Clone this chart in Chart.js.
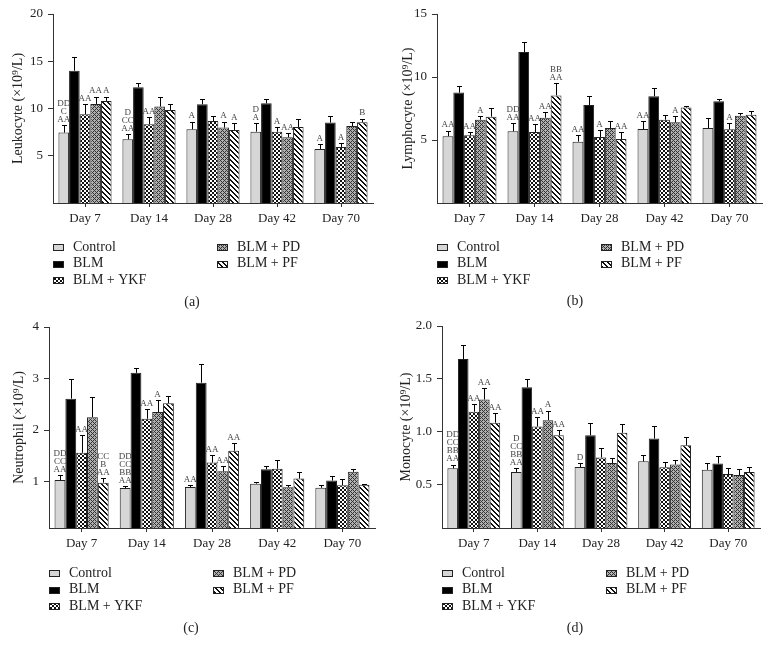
<!DOCTYPE html>
<html>
<head>
<meta charset="utf-8">
<script src="https://cdn.jsdelivr.net/npm/chart.js@4"></script>
<style>
  body { margin: 0; background: #fff; }
  #wrap { position: relative; width: 771px; height: 654px; overflow: hidden; background: #fff; }
  .panel { position: absolute; }
</style>
</head>
<body>
<div id="wrap"></div>
<script>
var days = ['Day 7', 'Day 14', 'Day 28', 'Day 42', 'Day 70'];
var groups = ['Control', 'BLM', 'BLM + YKF', 'BLM + PD', 'BLM + PF'];

// values per group (rows) and day (columns)
var leukocyte = [
  [7.45, 6.74, 7.8, 7.55, 5.72],
  [14.0, 12.25, 10.45, 10.55, 8.51],
  [9.39, 8.33, 8.68, 7.55, 5.93],
  [10.48, 10.2, 7.98, 6.95, 8.15],
  [10.8, 9.85, 7.73, 8.05, 8.54]
];
var leukocyteErr = [
  [0.77, 0.53, 0.81, 0.88, 0.53],
  [1.4, 0.42, 0.55, 0.45, 0.7],
  [1.06, 0.77, 0.5, 0.53, 0.39],
  [0.78, 0.99, 0.63, 0.43, 0.46],
  [0.46, 0.63, 0.7, 0.81, 0.39]
];
var leukocyteMarks = [
  [['DD', 'C', 'AA'], ['D', 'CC', 'AA'], ['A'], ['D', 'A'], ['A']],
  [[], [], [], [], []],
  [['AA'], ['AA'], [], ['A'], ['A']],
  [['AA'], [], ['A'], ['AA'], []],
  [['A'], [], ['A'], [], ['B']]
];

var lymphocyte = [
  [5.3, 5.69, 4.87, 5.87, 5.95],
  [8.76, 11.98, 7.78, 8.47, 8.07],
  [5.37, 5.63, 5.24, 6.61, 5.85],
  [6.61, 6.77, 5.95, 6.4, 6.93],
  [6.85, 8.54, 5.08, 7.57, 7.01]
];
var lymphocyteErr = [
  [0.45, 0.63, 0.53, 0.61, 0.8],
  [0.54, 0.77, 0.69, 0.66, 0.16],
  [0.29, 0.61, 0.55, 0.35, 0.47],
  [0.32, 0.45, 0.58, 0.48, 0.19],
  [0.72, 0.96, 0.58, 0.13, 0.32]
];
var lymphocyteMarks = [
  [['AA'], ['DD', 'AA'], ['AA'], ['AA'], []],
  [[], [], [], [], []],
  [['AA'], ['AA'], ['A'], [], ['A']],
  [['A'], ['AA'], [], ['A'], []],
  [[], ['BB', 'AA'], ['AA'], [], []]
];

var neutrophil = [
  [1.03, 0.876, 0.895, 0.96, 0.88],
  [2.61, 3.11, 2.92, 1.24, 1.02],
  [1.56, 2.22, 1.37, 1.25, 0.93],
  [2.25, 2.35, 1.2, 0.89, 1.19],
  [0.98, 2.52, 1.6, 1.06, 0.94]
];
var neutrophilErr = [
  [0.1, 0.04, 0.04, 0.04, 0.05],
  [0.39, 0.1, 0.37, 0.07, 0.09],
  [0.34, 0.19, 0.15, 0.16, 0.12],
  [0.39, 0.24, 0.1, 0.05, 0.06],
  [0.09, 0.15, 0.15, 0.12, 0.01]
];
var neutrophilMarks = [
  [['DD', 'CC', 'AA'], ['DD', 'CC', 'BB', 'AA'], ['AA'], [], []],
  [[], [], [], [], []],
  [['AA'], ['AA'], ['AA'], [], []],
  [[], ['A'], ['AA'], [], []],
  [['CC', 'B', 'AA'], [], ['AA'], [], []]
];

var monocyte = [
  [0.654, 0.62, 0.667, 0.72, 0.64],
  [1.687, 1.42, 0.967, 0.936, 0.70],
  [1.19, 1.05, 0.757, 0.664, 0.60],
  [1.305, 1.11, 0.704, 0.69, 0.59],
  [1.086, 0.967, 0.99, 0.873, 0.62]
];
var monocyteErr = [
  [0.036, 0.04, 0.035, 0.056, 0.067],
  [0.13, 0.08, 0.12, 0.12, 0.067],
  [0.07, 0.09, 0.093, 0.046, 0.06],
  [0.105, 0.09, 0.046, 0.046, 0.055],
  [0.094, 0.053, 0.087, 0.082, 0.044]
];
var monocyteMarks = [
  [['DD', 'CC', 'BB', 'AA'], ['D', 'CC', 'BB', 'AA'], ['D'], [], []],
  [[], [], [], [], []],
  [['AA'], ['AA'], [], [], []],
  [['AA'], ['A'], [], [], []],
  [['AA'], ['AA'], [], [], []]
];

var leukocyteTicks = [5, 10, 15, 20];
var lymphocyteTicks = [5, 10, 15];
var neutrophilTicks = [1, 2, 3, 4];
var monocyteTicks = [0.5, 1.0, 1.5, 2.0];

var SERIF = '"Liberation Serif", "DejaVu Serif", serif';

function makeTile(kind) {
  var t = document.createElement('canvas');
  var g = t.getContext('2d');
  var x, y;
  if (kind == 'check') {
    t.width = t.height = 4;
    g.fillStyle = '#fff'; g.fillRect(0, 0, 4, 4);
    g.fillStyle = '#111'; g.fillRect(0, 0, 2, 2); g.fillRect(2, 2, 2, 2);
  } else if (kind == 'hatch') {
    t.width = t.height = 4;
    g.fillStyle = '#b0b0b0'; g.fillRect(0, 0, 4, 4);
    g.fillStyle = '#333';
    for (x = 0; x < 4; x++) for (y = 0; y < 4; y++) {
      if ((x + y) % 4 == 0 || (x - y + 4) % 4 == 0) g.fillRect(x, y, 1, 1);
    }
  } else {
    t.width = t.height = 5;
    g.fillStyle = '#fff'; g.fillRect(0, 0, 5, 5);
    g.fillStyle = '#111';
    for (x = 0; x < 5; x++) for (y = 0; y < 5; y++) {
      if ((x - y + 5) % 5 < 2) g.fillRect(x, y, 1, 1);
    }
  }
  return t;
}

function getFills(ctx) {
  return [
    '#d6d6d6',
    '#000000',
    ctx.createPattern(makeTile('check'), 'repeat'),
    ctx.createPattern(makeTile('hatch'), 'repeat'),
    ctx.createPattern(makeTile('stripe'), 'repeat')
  ];
}

// error bars (upper only) and significance letters
var errPlugin = {
  id: 'errbars',
  afterDatasetsDraw: function (chart) {
    var ctx = chart.ctx;
    var ys = chart.scales.y;
    var errs = chart.options.plugins.errbars.err;
    var marks = chart.options.plugins.errbars.marks;
    ctx.save();
    chart.data.datasets.forEach(function (ds, i) {
      var meta = chart.getDatasetMeta(i);
      meta.data.forEach(function (bar, j) {
        var top = ys.getPixelForValue(ds.data[j] + errs[i][j]);
        var cx = Math.round(bar.x) + 0.5;
        var ty = Math.round(top) + 0.5;
        ctx.strokeStyle = '#000';
        ctx.lineWidth = 1;
        ctx.beginPath();
        ctx.moveTo(cx, bar.y);
        ctx.lineTo(cx, ty);
        ctx.moveTo(cx - 2.5, ty);
        ctx.lineTo(cx + 2.5, ty);
        ctx.stroke();
        var lines = marks[i][j];
        ctx.fillStyle = '#444';
        ctx.font = '9px ' + SERIF;
        ctx.textAlign = 'center';
        ctx.textBaseline = 'bottom';
        for (var k = 0; k < lines.length; k++) {
          var off = (lines.length - 1 - k) * 8;
          ctx.fillText(lines[k], bar.x, top - 1 - off);
        }
      });
    });
    ctx.restore();
  }
};

// two-column legend and panel caption under the chart
var legendPlugin = {
  id: 'legbox',
  afterDraw: function (chart) {
    var o = chart.options.plugins.legbox;
    var ctx = chart.ctx;
    var fills = getFills(ctx);
    var spots = [[0, 0], [0, 1], [0, 2], [1, 0], [1, 1]];
    ctx.save();
    ctx.font = '14px ' + SERIF;
    ctx.fillStyle = '#222';
    ctx.textBaseline = 'middle';
    ctx.textAlign = 'left';
    chart.data.datasets.forEach(function (ds, i) {
      var x = o.x + spots[i][0] * 164;
      var y = o.y + spots[i][1] * 16.5;
      ctx.fillStyle = fills[i];
      ctx.fillRect(x, Math.round(y) - 3, 11, 7);
      ctx.strokeStyle = '#222';
      ctx.lineWidth = 1;
      ctx.strokeRect(x + 0.5, Math.round(y) - 2.5, 10, 6);
      ctx.fillStyle = '#222';
      ctx.fillText(ds.label, x + 20, y);
    });
    ctx.textAlign = 'center';
    ctx.fillText(o.tag, o.capX, o.capY);
    ctx.restore();
  }
};

var panels = [
  { tag: '(a)', vals: leukocyte, err: leukocyteErr, marks: leukocyteMarks, ticks: leukocyteTicks,
    title: 'Leukocyte (\u00d710\u2079/L)', min: 0, max: 20, dec: 0,
    left: 0, top: 0, width: 385, height: 313, yW: 53, padR: 12, padT: 14, padB: 80, xH: 30, titlePad: 10,
    legY: 247, capX: 192, capY: 302 },
  { tag: '(b)', vals: lymphocyte, err: lymphocyteErr, marks: lymphocyteMarks, ticks: lymphocyteTicks,
    title: 'Lymphocyte (\u00d710\u2079/L)', min: 0, max: 15, dec: 0,
    left: 385, top: 0, width: 386, height: 313, yW: 52, padR: 9, padT: 14, padB: 80, xH: 30, titlePad: 15,
    legY: 247, capX: 190, capY: 301 },
  { tag: '(c)', vals: neutrophil, err: neutrophilErr, marks: neutrophilMarks, ticks: neutrophilTicks,
    title: 'Neutrophil (\u00d710\u2079/L)', min: 0.1, max: 4, dec: 0,
    left: 0, top: 313, width: 385, height: 341, yW: 49, padR: 10, padT: 14, padB: 96, xH: 30, titlePad: 11,
    legY: 260, capX: 191, capY: 315 },
  { tag: '(d)', vals: monocyte, err: monocyteErr, marks: monocyteMarks, ticks: monocyteTicks,
    title: 'Monocyte (\u00d710\u2079/L)', min: 0.09, max: 2, dec: 1,
    left: 385, top: 313, width: 386, height: 341, yW: 57, padR: 11, padT: 13, padB: 96, xH: 30, titlePad: 13,
    legY: 260, capX: 190, capY: 315 }
];

var wrap = document.getElementById('wrap');

panels.forEach(function (p) {
  var div = document.createElement('div');
  div.className = 'panel';
  div.style.left = p.left + 'px';
  div.style.top = p.top + 'px';
  var cv = document.createElement('canvas');
  cv.width = p.width;
  cv.height = p.height;
  cv.style.width = p.width + 'px';
  cv.style.height = p.height + 'px';
  div.appendChild(cv);
  wrap.appendChild(div);

  var ctx = cv.getContext('2d');
  var fills = getFills(ctx);

  new Chart(ctx, {
    type: 'bar',
    data: {
      labels: days,
      datasets: groups.map(function (g, i) {
        return {
          label: g,
          data: p.vals[i],
          backgroundColor: fills[i],
          borderColor: '#222',
          borderWidth: 1,
          categoryPercentage: 0.83,
          barPercentage: 1
        };
      })
    },
    options: {
      responsive: false,
      animation: false,
      devicePixelRatio: 1,
      layout: { padding: { top: p.padT, right: p.padR, left: 0, bottom: p.padB } },
      plugins: {
        legend: { display: false },
        tooltip: { enabled: false },
        errbars: { err: p.err, marks: p.marks },
        legbox: { x: p.yW, y: p.legY, tag: p.tag, capX: p.capX, capY: p.capY }
      },
      scales: {
        x: {
          grid: { display: true, drawOnChartArea: false, drawTicks: true, tickLength: 4, offset: false, color: '#333' },
          border: { display: true, color: '#333', width: 1 },
          ticks: { font: { family: SERIF, size: 13 }, color: '#222', padding: 4, maxRotation: 0, autoSkip: false },
          afterFit: function (s) { s.height = p.xH; }
        },
        y: {
          min: p.min,
          max: p.max,
          grid: { display: true, drawOnChartArea: false, drawTicks: true, tickLength: 5, color: '#333' },
          border: { display: true, color: '#333', width: 1 },
          ticks: {
            font: { family: SERIF, size: 13 }, color: '#222', padding: 5,
            callback: function (v) { return Number(v).toFixed(p.dec); }
          },
          afterBuildTicks: function (s) { s.ticks = p.ticks.map(function (v) { return { value: v }; }); },
          afterFit: function (s) { s.width = p.yW; },
          title: {
            display: true, text: p.title, color: '#222',
            font: { family: SERIF, size: 14 },
            padding: { top: p.titlePad, bottom: 0 }
          }
        }
      }
    },
    plugins: [errPlugin, legendPlugin]
  });
});
</script>
</body>
</html>
